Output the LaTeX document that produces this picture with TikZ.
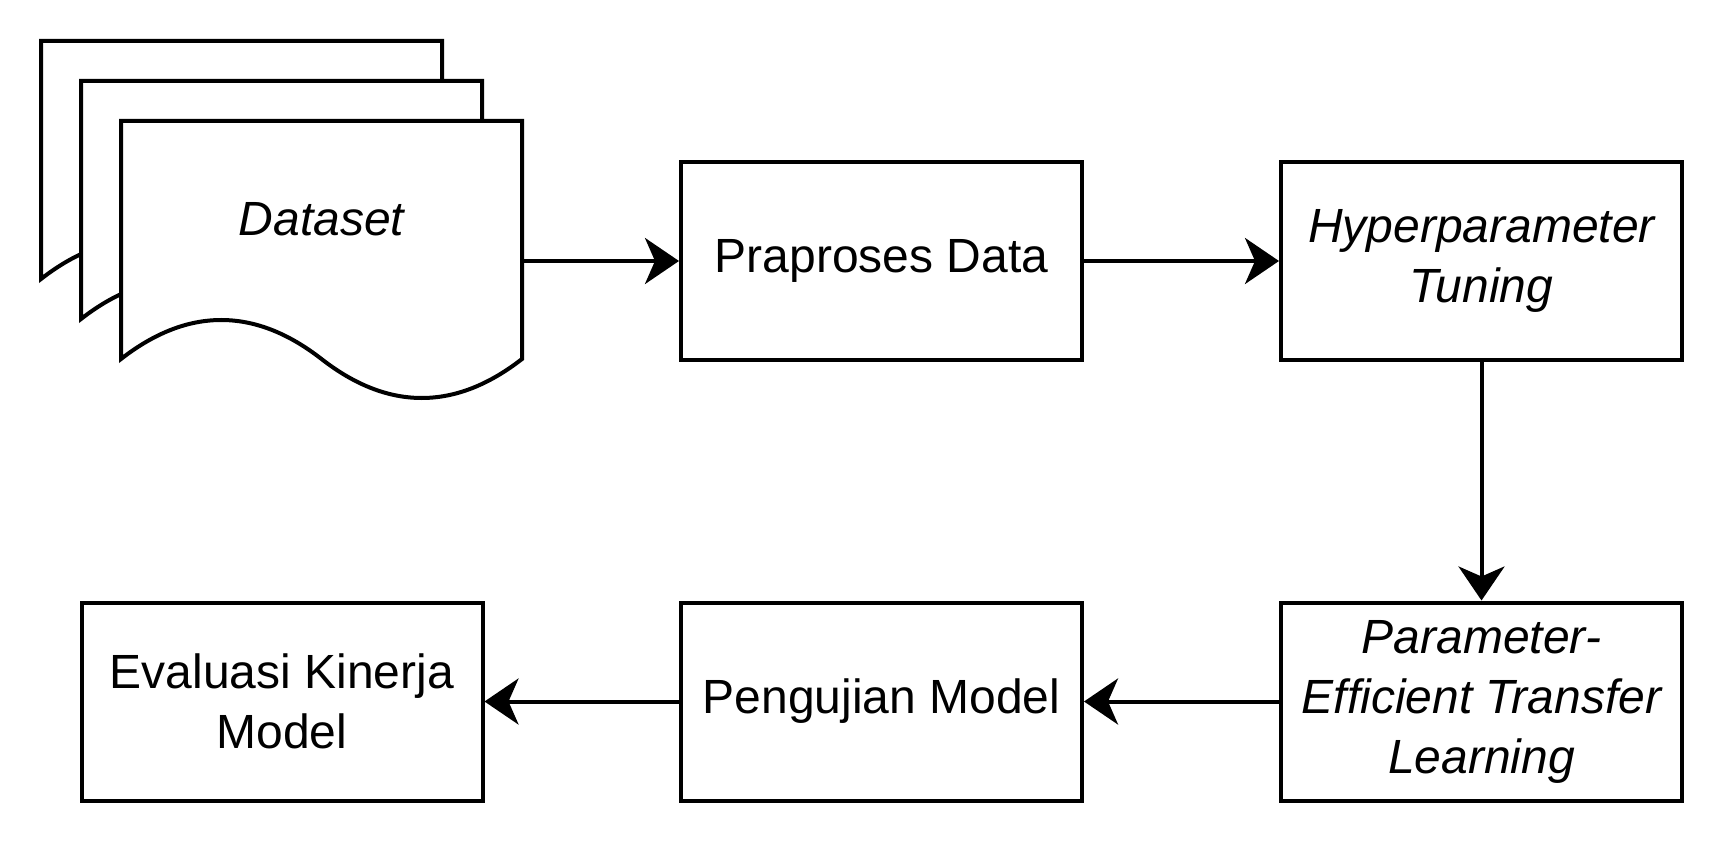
\documentclass[tikz,border=0pt]{standalone}
\usepackage{fontspec}
\setmainfont{Liberation Sans}
\usetikzlibrary{arrows.meta}

\begin{document}
\begin{tikzpicture}[x=0.5pt,y=-0.5pt]
\tikzstyle{every node}=[font=\fontsize{24}{30}\selectfont, align=center]
\tikzstyle{slanted}=[font=\fontsize{24}{30}\selectfont\itshape]
\tikzstyle{stepbox}=[draw, line width=2pt, fill=white, minimum width=200.5pt, minimum height=99pt, inner sep=0pt]
\tikzstyle{flow}=[line width=2pt, -{Stealth[length=17pt,width=23pt,inset=5pt]}]
\useasboundingbox (0,0) rectangle (1728,844);
% dataset pages, back to front
\foreach \d in {80,40,0} {
  \draw[line width=2pt, fill=white] (121-\d,121-\d) -- (522-\d,121-\d) -- (522-\d,359-\d)
    .. controls (455.2-\d,411-\d) and (388.3-\d,411-\d) .. (321.5-\d,359-\d)
    .. controls (254.7-\d,307-\d) and (187.8-\d,307-\d) .. (121-\d,359-\d) -- cycle;
}
\draw (321.5,219) node (dataset) [slanted] {Dataset};
\coordinate (dsout) at (522,261);
% steps
\draw (881.5,261) node (prep) [stepbox] {Praproses Data};
\draw (1481.5,261) node (hyper) [stepbox, slanted] {Hyperparameter\\Tuning};
\draw (1481.5,701.5) node (petl) [stepbox, slanted] {Parameter-\\Efficient Transfer\\Learning};
\draw (881.5,701.5) node (test) [stepbox] {Pengujian Model};
\draw (282,701.5) node (eval) [stepbox] {Evaluasi Kinerja\\Model};
\draw[flow] (dsout) -- (prep);
\draw[flow] (prep) -- (hyper);
\draw[flow] (hyper) -- (petl);
\draw[flow] (petl) -- (test);
\draw[flow] (test) -- (eval);
\end{tikzpicture}
\end{document}
